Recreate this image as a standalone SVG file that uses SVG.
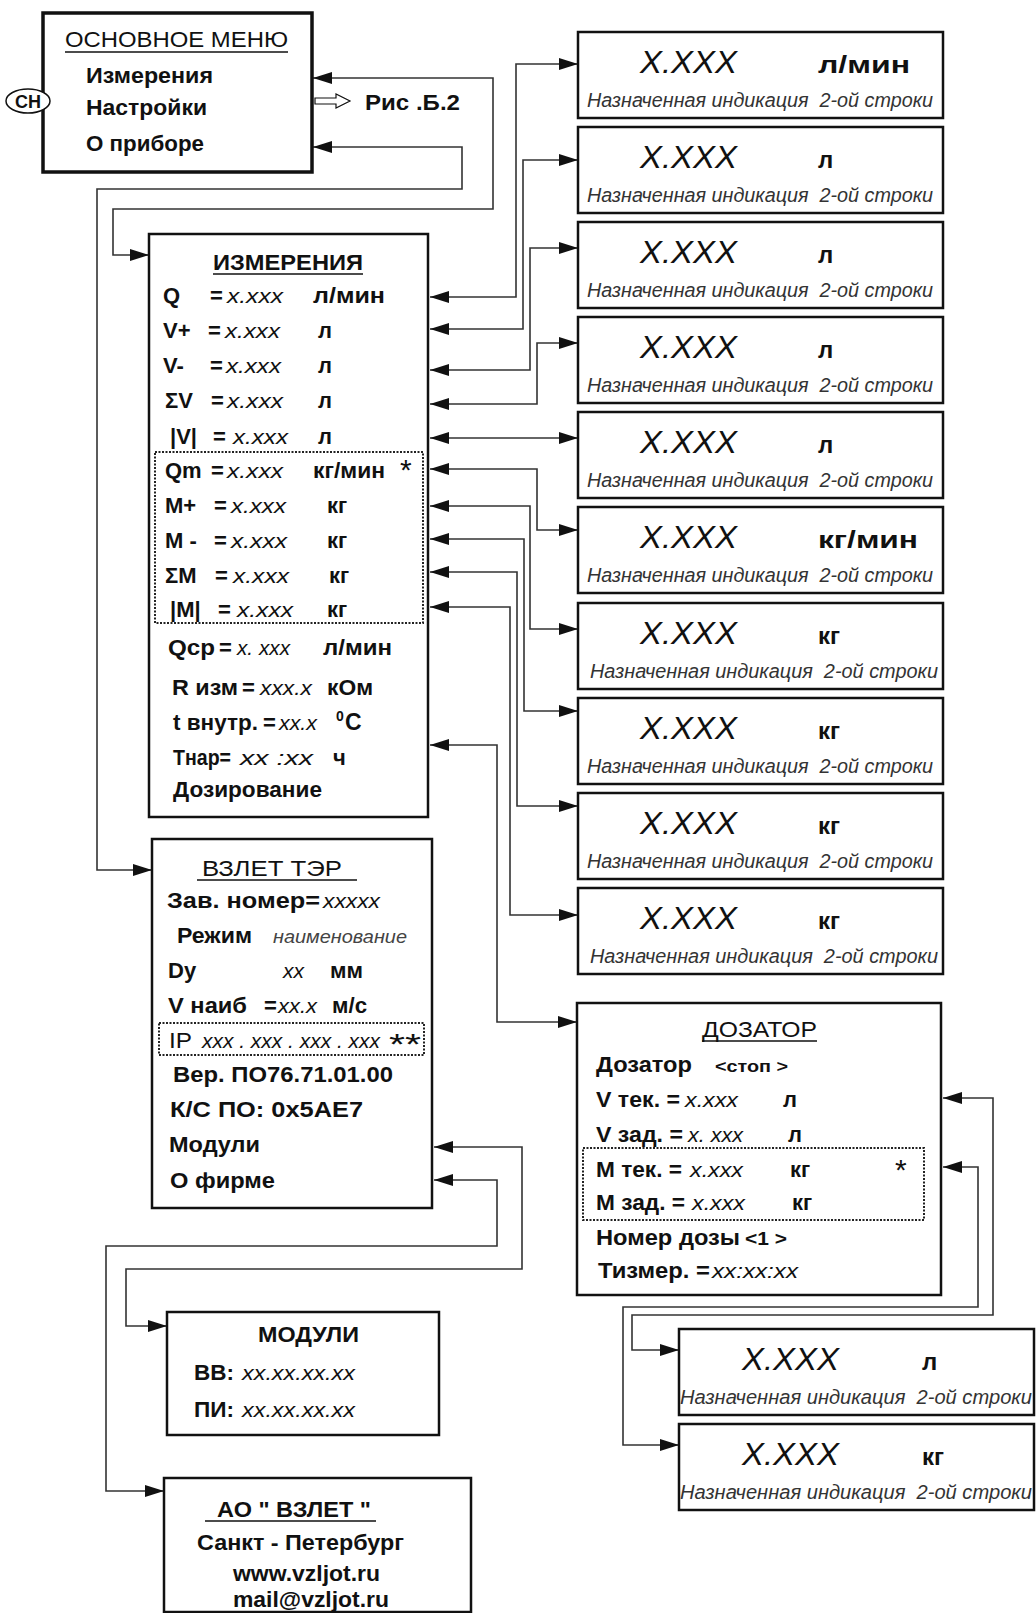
<svg xmlns="http://www.w3.org/2000/svg" width="1036" height="1613" viewBox="0 0 1036 1613">
<defs>
<style>
text{font-family:"Liberation Sans",Arial,sans-serif;fill:#111;}
.b{font-weight:bold;font-size:22px;}
.r{font-size:22px;}
.i{font-style:italic;font-size:21px;}
.il{font-style:italic;font-size:18px;fill:#444;}
.sm{font-weight:bold;font-size:16px;}
.ast{font-size:30px;}
.disp{font-style:italic;font-size:31px;}
.unit{font-weight:bold;font-size:24px;}
.sub{font-style:italic;font-size:20px;fill:#333;white-space:pre;}
.thick{fill:#fff;stroke:#111;stroke-width:3.5;}
.box{fill:#fff;stroke:#111;stroke-width:2.5;}
.dot{fill:none;stroke:#222;stroke-width:2;stroke-dasharray:2 1.5;}
.ul{stroke:#111;stroke-width:1.5;}
.con{fill:none;stroke:#333;stroke-width:1.6;marker-start:url(#ah);marker-end:url(#ah);}
</style>
<marker id="ah" markerUnits="userSpaceOnUse" markerWidth="19" markerHeight="12" refX="19" refY="6" orient="auto-start-reverse">
<path d="M0,0 L19,6 L0,12 Z" fill="#111"/>
</marker>
</defs>
<rect width="1036" height="1613" fill="#fff"/>

<g id="connectors">
<path class="con" d="M313,78 H493 V209 H113 V255 H149"/>
<path class="con" d="M313,147 H462 V189 H97 V870 H152"/>
<path class="con" d="M430,297 H516 V64 H578"/>
<path class="con" d="M430,329 H523 V160 H578"/>
<path class="con" d="M430,370 H530 V248 H578"/>
<path class="con" d="M430,404 H537 V343 H578"/>
<path class="con" d="M430,438 H578"/>
<path class="con" d="M430,469 H537 V530 H578"/>
<path class="con" d="M430,506 H530 V629 H578"/>
<path class="con" d="M430,539 H524 V711 H578"/>
<path class="con" d="M430,572 H517 V806 H578"/>
<path class="con" d="M430,607 H510 V915 H578"/>
<path class="con" d="M430,745 H497 V1022 H577"/>
<path class="con" d="M434,1147 H522 V1269 H126 V1326 H167"/>
<path class="con" d="M434,1180 H497 V1246 H106 V1491 H164"/>
<path class="con" d="M943,1098 H993 V1315 H632 V1350 H679"/>
<path class="con" d="M943,1167 H978 V1307 H623 V1445 H679"/>
</g>

<g id="main-menu">
<rect x="43" y="13" width="269" height="159" class="thick"/>
<text class="r" x="65" y="47" textLength="223" lengthAdjust="spacingAndGlyphs">ОСНОВНОЕ МЕНЮ</text>
<line x1="65" y1="52" x2="288" y2="52" class="ul"/>
<text class="b" x="86" y="83" textLength="127" lengthAdjust="spacingAndGlyphs">Измерения</text>
<text class="b" x="86" y="115" textLength="121" lengthAdjust="spacingAndGlyphs">Настройки</text>
<text class="b" x="86" y="151" textLength="118" lengthAdjust="spacingAndGlyphs">О приборе</text>
</g>

<g id="key-sn">
<ellipse cx="28" cy="101" rx="22" ry="12" fill="#fff" stroke="#111" stroke-width="1.5"/>
<text class="b" x="28" y="108" text-anchor="middle" style="font-size:18px">СН</text>
</g>

<g id="ref-b2">
<polygon points="315,98 336,98 336,94 350,101 336,108 336,104 315,104" fill="#fff" stroke="#111" stroke-width="1.2"/>
<text class="b" x="365" y="110" textLength="95" lengthAdjust="spacingAndGlyphs">Рис .Б.2</text>
</g>

<g id="izmereniya">
<rect x="149" y="234" width="279" height="583" class="box"/>
<text class="b" x="213" y="270" textLength="150" lengthAdjust="spacingAndGlyphs">ИЗМЕРЕНИЯ</text>
<line x1="213" y1="274" x2="363" y2="274" class="ul"/>
<rect x="155" y="452" width="268" height="171" class="dot"/>
<text class="b" x="163" y="303">Q</text><text class="b" x="210" y="303">=</text><text class="i" x="227" y="303" textLength="56" lengthAdjust="spacingAndGlyphs">x.xxx</text><text class="b" x="313" y="303" textLength="72" lengthAdjust="spacingAndGlyphs">л/мин</text>
<text class="b" x="163" y="338">V+</text><text class="b" x="208" y="338">=</text><text class="i" x="225" y="338" textLength="55" lengthAdjust="spacingAndGlyphs">x.xxx</text><text class="b" x="318" y="338">л</text>
<text class="b" x="163" y="373">V-</text><text class="b" x="210" y="373">=</text><text class="i" x="226" y="373" textLength="55" lengthAdjust="spacingAndGlyphs">x.xxx</text><text class="b" x="318" y="373">л</text>
<text class="b" x="165" y="408">ΣV</text><text class="b" x="211" y="408">=</text><text class="i" x="227" y="408" textLength="56" lengthAdjust="spacingAndGlyphs">x.xxx</text><text class="b" x="318" y="408">л</text>
<text class="b" x="170" y="444">|V|</text><text class="b" x="213" y="444">=</text><text class="i" x="233" y="444" textLength="55" lengthAdjust="spacingAndGlyphs">x.xxx</text><text class="b" x="318" y="444">л</text>
<text class="b" x="165" y="478">Qm</text><text class="b" x="211" y="478">=</text><text class="i" x="227" y="478" textLength="56" lengthAdjust="spacingAndGlyphs">x.xxx</text><text class="b" x="313" y="478" textLength="72" lengthAdjust="spacingAndGlyphs">кг/мин</text><text class="ast" x="400" y="480">*</text>
<text class="b" x="165" y="513">M+</text><text class="b" x="214" y="513">=</text><text class="i" x="231" y="513" textLength="55" lengthAdjust="spacingAndGlyphs">x.xxx</text><text class="b" x="327" y="513">кг</text>
<text class="b" x="165" y="548">M -</text><text class="b" x="214" y="548">=</text><text class="i" x="231" y="548" textLength="56" lengthAdjust="spacingAndGlyphs">x.xxx</text><text class="b" x="327" y="548">кг</text>
<text class="b" x="165" y="583">ΣM</text><text class="b" x="215" y="583">=</text><text class="i" x="233" y="583" textLength="56" lengthAdjust="spacingAndGlyphs">x.xxx</text><text class="b" x="329" y="583">кг</text>
<text class="b" x="170" y="617">|M|</text><text class="b" x="218" y="617">=</text><text class="i" x="237" y="617" textLength="56" lengthAdjust="spacingAndGlyphs">x.xxx</text><text class="b" x="327" y="617">кг</text>
<text class="b" x="168" y="655" textLength="47" lengthAdjust="spacingAndGlyphs">Qср</text><text class="b" x="219" y="655">=</text><text class="i" x="237" y="655" textLength="53" lengthAdjust="spacingAndGlyphs">x. xxx</text><text class="b" x="323" y="655" textLength="69" lengthAdjust="spacingAndGlyphs">л/мин</text>
<text class="b" x="172" y="695" textLength="66" lengthAdjust="spacingAndGlyphs">R изм</text><text class="b" x="242" y="695">=</text><text class="i" x="260" y="695" textLength="52" lengthAdjust="spacingAndGlyphs">xxx.x</text><text class="b" x="327" y="695" textLength="46" lengthAdjust="spacingAndGlyphs">кОм</text>
<text class="b" x="173" y="730" textLength="85" lengthAdjust="spacingAndGlyphs">t внутр.</text><text class="b" x="263" y="730">=</text><text class="i" x="279" y="730" textLength="38" lengthAdjust="spacingAndGlyphs">xx.x</text><text class="b" x="336" y="721" style="font-size:14px">0</text><text class="b" x="345" y="730" style="font-size:23px">C</text>
<text class="b" x="173" y="765" textLength="58" lengthAdjust="spacingAndGlyphs">Тнар=</text><text class="i" x="240" y="765" textLength="73" lengthAdjust="spacingAndGlyphs">xx :xx</text><text class="b" x="333" y="765">ч</text>
<text class="b" x="173" y="797" textLength="149" lengthAdjust="spacingAndGlyphs">Дозирование</text>
</g>

<g id="vzlet-ter">
<rect x="152" y="839" width="280" height="369" class="box"/>
<text class="r" x="202" y="876" textLength="140" lengthAdjust="spacingAndGlyphs">ВЗЛЕТ ТЭР</text>
<line x1="197" y1="880" x2="357" y2="880" class="ul"/>
<text class="b" x="167" y="908" textLength="153" lengthAdjust="spacingAndGlyphs">Зав.  номер=</text><text class="i" x="323" y="908" textLength="57" lengthAdjust="spacingAndGlyphs">xxxxx</text>
<text class="b" x="177" y="943" textLength="75" lengthAdjust="spacingAndGlyphs">Режим</text><text class="il" x="273" y="943" textLength="134" lengthAdjust="spacingAndGlyphs">наименование</text>
<text class="b" x="168" y="978">Dy</text><text class="i" x="283" y="978">xx</text><text class="b" x="330" y="978" textLength="33" lengthAdjust="spacingAndGlyphs">мм</text>
<text class="b" x="168" y="1013" textLength="79" lengthAdjust="spacingAndGlyphs">V наиб</text><text class="b" x="264" y="1013">=</text><text class="i" x="278" y="1013" textLength="39" lengthAdjust="spacingAndGlyphs">xx.x</text><text class="b" x="332" y="1013" textLength="35" lengthAdjust="spacingAndGlyphs">м/с</text>
<rect x="159" y="1023" width="265" height="32" class="dot"/>
<text class="r" x="169" y="1048" textLength="23" lengthAdjust="spacingAndGlyphs">IP</text><text class="i" x="202" y="1048" textLength="178" lengthAdjust="spacingAndGlyphs">xxx . xxx . xxx . xxx</text><text class="ast" x="389" y="1054" textLength="32" lengthAdjust="spacingAndGlyphs">**</text>
<text class="b" x="173" y="1082" textLength="220" lengthAdjust="spacingAndGlyphs">Вер. ПО76.71.01.00</text>
<text class="b" x="170" y="1117" textLength="193" lengthAdjust="spacingAndGlyphs">К/С  ПО: 0x5AE7</text>
<text class="b" x="169" y="1152" textLength="91" lengthAdjust="spacingAndGlyphs">Модули</text>
<text class="b" x="170" y="1188" textLength="105" lengthAdjust="spacingAndGlyphs">О фирме</text>
</g>

<g id="dozator">
<rect x="577" y="1003" width="364" height="292" class="box"/>
<text class="r" x="702" y="1037" textLength="115" lengthAdjust="spacingAndGlyphs">ДОЗАТОР</text>
<line x1="702" y1="1041" x2="817" y2="1041" class="ul"/>
<text class="b" x="596" y="1072" textLength="96" lengthAdjust="spacingAndGlyphs">Дозатор</text><text class="sm" x="715" y="1072" textLength="73" lengthAdjust="spacingAndGlyphs">&lt;стоп &gt;</text>
<text class="b" x="596" y="1107" textLength="84" lengthAdjust="spacingAndGlyphs">V тек. =</text><text class="i" x="685" y="1107" textLength="53" lengthAdjust="spacingAndGlyphs">x.xxx</text><text class="b" x="783" y="1107">л</text>
<text class="b" x="596" y="1142" textLength="87" lengthAdjust="spacingAndGlyphs">V зад. =</text><text class="i" x="688" y="1142" textLength="55" lengthAdjust="spacingAndGlyphs">x. xxx</text><text class="b" x="788" y="1142">л</text>
<rect x="583" y="1148" width="341" height="72" class="dot"/>
<text class="b" x="596" y="1177" textLength="86" lengthAdjust="spacingAndGlyphs">M тек. =</text><text class="i" x="690" y="1177" textLength="53" lengthAdjust="spacingAndGlyphs">x.xxx</text><text class="b" x="790" y="1177">кг</text><text class="ast" x="895" y="1180">*</text>
<text class="b" x="596" y="1210" textLength="89" lengthAdjust="spacingAndGlyphs">M зад. =</text><text class="i" x="692" y="1210" textLength="53" lengthAdjust="spacingAndGlyphs">x.xxx</text><text class="b" x="792" y="1210">кг</text>
<text class="b" x="596" y="1245" textLength="144" lengthAdjust="spacingAndGlyphs">Номер дозы</text><text class="sm" x="745" y="1245" textLength="42" lengthAdjust="spacingAndGlyphs" style="font-size:18px">&lt;1 &gt;</text>
<text class="b" x="598" y="1278" textLength="112" lengthAdjust="spacingAndGlyphs">Тизмер. =</text><text class="i" x="712" y="1278" textLength="86" lengthAdjust="spacingAndGlyphs">xx:xx:xx</text>
</g>

<g id="disp-1"><rect x="578" y="32" width="365" height="86" class="box"/><text class="disp" x="640" y="73" textLength="97" lengthAdjust="spacingAndGlyphs">X.XXX</text><text class="unit" x="818" y="73" textLength="92" lengthAdjust="spacingAndGlyphs">л/мин</text><text class="sub" x="587" y="107" textLength="346" lengthAdjust="spacingAndGlyphs">Назначенная индикация  2-ой строки</text></g>
<g id="disp-2"><rect x="578" y="127" width="365" height="86" class="box"/><text class="disp" x="640" y="168" textLength="97" lengthAdjust="spacingAndGlyphs">X.XXX</text><text class="unit" x="818" y="168">л</text><text class="sub" x="587" y="202" textLength="346" lengthAdjust="spacingAndGlyphs">Назначенная индикация  2-ой строки</text></g>
<g id="disp-3"><rect x="578" y="222" width="365" height="86" class="box"/><text class="disp" x="640" y="263" textLength="97" lengthAdjust="spacingAndGlyphs">X.XXX</text><text class="unit" x="818" y="263">л</text><text class="sub" x="587" y="297" textLength="346" lengthAdjust="spacingAndGlyphs">Назначенная индикация  2-ой строки</text></g>
<g id="disp-4"><rect x="578" y="317" width="365" height="86" class="box"/><text class="disp" x="640" y="358" textLength="97" lengthAdjust="spacingAndGlyphs">X.XXX</text><text class="unit" x="818" y="358">л</text><text class="sub" x="587" y="392" textLength="346" lengthAdjust="spacingAndGlyphs">Назначенная индикация  2-ой строки</text></g>
<g id="disp-5"><rect x="578" y="412" width="365" height="86" class="box"/><text class="disp" x="640" y="453" textLength="97" lengthAdjust="spacingAndGlyphs">X.XXX</text><text class="unit" x="818" y="453">л</text><text class="sub" x="587" y="487" textLength="346" lengthAdjust="spacingAndGlyphs">Назначенная индикация  2-ой строки</text></g>
<g id="disp-6"><rect x="578" y="507" width="365" height="86" class="box"/><text class="disp" x="640" y="548" textLength="97" lengthAdjust="spacingAndGlyphs">X.XXX</text><text class="unit" x="818" y="548" textLength="100" lengthAdjust="spacingAndGlyphs">кг/мин</text><text class="sub" x="587" y="582" textLength="346" lengthAdjust="spacingAndGlyphs">Назначенная индикация  2-ой строки</text></g>
<g id="disp-7"><rect x="578" y="603" width="365" height="86" class="box"/><text class="disp" x="640" y="644" textLength="97" lengthAdjust="spacingAndGlyphs">X.XXX</text><text class="unit" x="818" y="644">кг</text><text class="sub" x="590" y="678" textLength="348" lengthAdjust="spacingAndGlyphs">Назначенная индикация  2-ой строки</text></g>
<g id="disp-8"><rect x="578" y="698" width="365" height="86" class="box"/><text class="disp" x="640" y="739" textLength="97" lengthAdjust="spacingAndGlyphs">X.XXX</text><text class="unit" x="818" y="739">кг</text><text class="sub" x="587" y="773" textLength="346" lengthAdjust="spacingAndGlyphs">Назначенная индикация  2-ой строки</text></g>
<g id="disp-9"><rect x="578" y="793" width="365" height="86" class="box"/><text class="disp" x="640" y="834" textLength="97" lengthAdjust="spacingAndGlyphs">X.XXX</text><text class="unit" x="818" y="834">кг</text><text class="sub" x="587" y="868" textLength="346" lengthAdjust="spacingAndGlyphs">Назначенная индикация  2-ой строки</text></g>
<g id="disp-10"><rect x="578" y="888" width="365" height="86" class="box"/><text class="disp" x="640" y="929" textLength="97" lengthAdjust="spacingAndGlyphs">X.XXX</text><text class="unit" x="818" y="929">кг</text><text class="sub" x="590" y="963" textLength="348" lengthAdjust="spacingAndGlyphs">Назначенная индикация  2-ой строки</text></g>

<g id="disp-dose-v"><rect x="679" y="1329" width="355" height="86" class="box"/><text class="disp" x="742" y="1370" textLength="97" lengthAdjust="spacingAndGlyphs">X.XXX</text><text class="unit" x="922" y="1370">л</text><text class="sub" x="680" y="1404" textLength="352" lengthAdjust="spacingAndGlyphs">Назначенная индикация  2-ой строки</text></g>
<g id="disp-dose-m"><rect x="679" y="1424" width="355" height="86" class="box"/><text class="disp" x="742" y="1465" textLength="97" lengthAdjust="spacingAndGlyphs">X.XXX</text><text class="unit" x="922" y="1465">кг</text><text class="sub" x="680" y="1499" textLength="352" lengthAdjust="spacingAndGlyphs">Назначенная индикация  2-ой строки</text></g>

<g id="moduli">
<rect x="167" y="1312" width="272" height="123" class="box"/>
<text class="b" x="258" y="1342" textLength="101" lengthAdjust="spacingAndGlyphs">МОДУЛИ</text>
<text class="b" x="194" y="1380" textLength="40" lengthAdjust="spacingAndGlyphs">ВВ:</text><text class="i" x="242" y="1380" textLength="113" lengthAdjust="spacingAndGlyphs">xx.xx.xx.xx</text>
<text class="b" x="194" y="1417" textLength="40" lengthAdjust="spacingAndGlyphs">ПИ:</text><text class="i" x="242" y="1417" textLength="113" lengthAdjust="spacingAndGlyphs">xx.xx.xx.xx</text>
</g>

<g id="o-firme">
<rect x="164" y="1478" width="307" height="134" class="box"/>
<text class="b" x="217" y="1517" textLength="154" lengthAdjust="spacingAndGlyphs">АО " ВЗЛЕТ "</text>
<line x1="205" y1="1521" x2="376" y2="1521" class="ul"/>
<text class="b" x="197" y="1550" textLength="207" lengthAdjust="spacingAndGlyphs">Санкт - Петербург</text>
<text class="b" x="233" y="1581" textLength="147" lengthAdjust="spacingAndGlyphs">www.vzljot.ru</text>
<text class="b" x="233" y="1607" textLength="156" lengthAdjust="spacingAndGlyphs">mail@vzljot.ru</text>
</g>
</svg>
